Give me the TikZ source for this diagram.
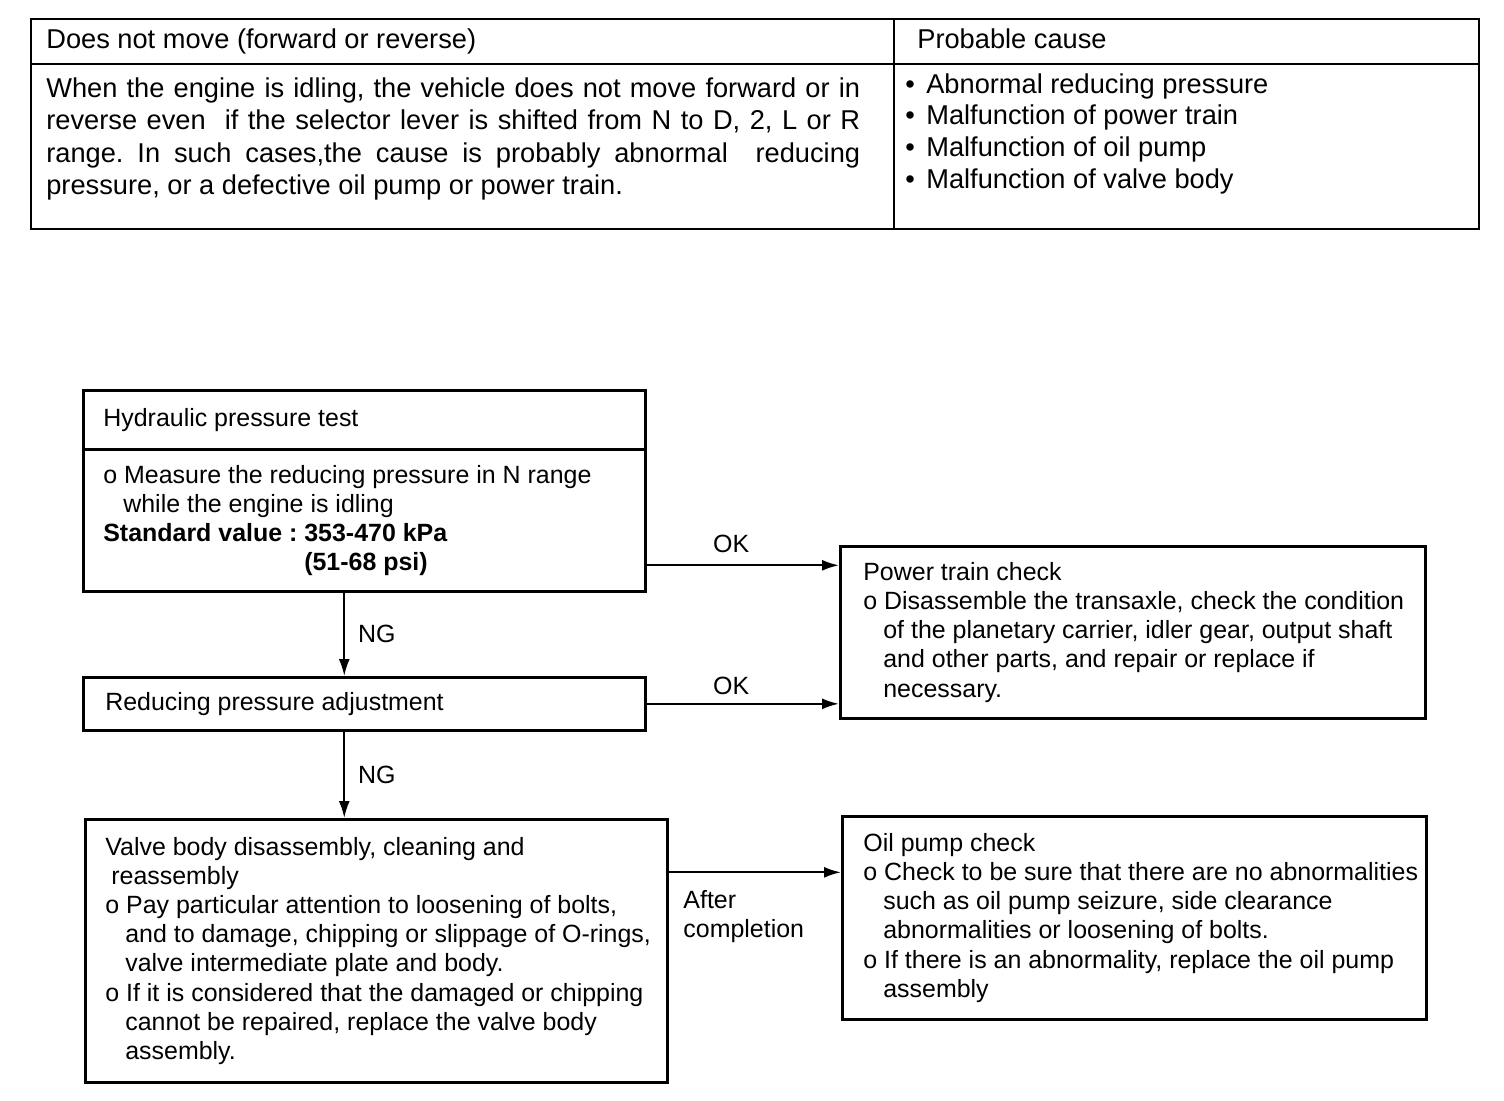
\documentclass[tikz,border=0pt]{standalone}
\usepackage{fontspec}
\setmainfont{Liberation Sans}
\usetikzlibrary{arrows.meta,positioning}
\newcommand{\hangin}{\hspace*{0.4cm}}
\frenchspacing

\begin{document}
\begin{tikzpicture}[x=0.02cm,y=-0.02cm,
    tabcell/.style={draw,line width=1.4pt,anchor=north west,inner sep=0pt},
    flowbox/.style={draw,line width=1.5pt,anchor=north west,inner sep=0pt},
    tabtext/.style={inner sep=0pt,font=\fontsize{15.5}{18.5}\selectfont},
    boxtext/.style={inner sep=0pt,anchor=west,align=left,font=\fontsize{14.2}{16.6}\selectfont},
    lbl/.style={font=\fontsize{14.2}{16.6}\selectfont},
    flowarrow/.style={line width=1.2pt,-{Latex[length=0.34cm,width=0.22cm]}}]
\useasboundingbox (0,0) rectangle (1504,1100);

% symptom table
\node[tabcell,minimum width=17.26cm,minimum height=0.9cm] (symptom) at (30,18) {};
\node[tabcell,minimum width=11.7cm,minimum height=0.9cm] (causehead) at (893,18) {};
\node[tabcell,minimum width=17.26cm,minimum height=3.3cm] (desc) at (30,63) {};
\node[tabcell,minimum width=11.7cm,minimum height=3.3cm] (causes) at (893,63) {};

\node[tabtext,anchor=west] (symptomtext) at ([xshift=0.32cm]symptom.west)
    {Does not move (forward or reverse)};
\node[tabtext,anchor=west] (causeheadtext) at ([xshift=0.48cm,yshift=0.05cm]causehead.west)
    {Probable cause};
\node[tabtext,anchor=north west,text width=16.28cm,align=justify] (desctext)
    at ([xshift=0.32cm,yshift=-0.28cm]desc.north west)
    {When the engine is idling, the vehicle does not move forward or in\linebreak
     reverse even\ \ if the selector lever is shifted from N to D, 2, L or R\linebreak
     range. In such cases,the cause is probably abnormal\ \ reducing\linebreak
     pressure, or a defective oil pump or power train.};
\node[tabtext,anchor=north west,align=left,font=\fontsize{15.5}{18.1}\selectfont] (causelist)
    at ([xshift=0.24cm,yshift=-0.2cm]causes.north west)
    {\makebox[0.42cm][l]{•}Abnormal reducing pressure\\
     \makebox[0.42cm][l]{•}Malfunction of power train\\
     \makebox[0.42cm][l]{•}Malfunction of oil pump\\
     \makebox[0.42cm][l]{•}Malfunction of valve body};

% flow chart boxes
\node[flowbox,minimum width=11.24cm,minimum height=1.18cm] (hydhead) at (82,389) {};
\node[flowbox,minimum width=11.24cm,minimum height=2.84cm] (hydbody) at (82,448) {};
\node[flowbox,minimum width=11.24cm,minimum height=1.06cm] (reduce) at (82,676) {};
\node[flowbox,minimum width=11.64cm,minimum height=5.26cm] (valve) at (84,818) {};
\node[flowbox,minimum width=11.7cm,minimum height=3.44cm] (power) at (839,545) {};
\node[flowbox,minimum width=11.68cm,minimum height=4.06cm] (oil) at (841,815) {};

\node[boxtext] (hydheadtext) at ([xshift=0.42cm]hydhead.west) {Hydraulic pressure test};
\node[boxtext] (hydbodytext) at ([xshift=0.42cm]hydbody.west)
    {o Measure the reducing pressure in N range\\
     \hangin while the engine is idling\\
     \textbf{Standard value : 353-470 kPa}\\
     \hspace*{4.02cm}\textbf{(51-68 psi)}};
\node[boxtext] (reducetext) at ([xshift=0.46cm]reduce.west) {Reducing pressure adjustment};
\node[boxtext] (valvetext) at ([xshift=0.42cm]valve.west)
    {Valve body disassembly, cleaning and\\
     \hspace*{0.12cm}reassembly\\
     o Pay particular attention to loosening of bolts,\\
     \hangin and to damage, chipping or slippage of O-rings,\\
     \hangin valve intermediate plate and body.\\
     o If it is considered that the damaged or chipping\\
     \hangin cannot be repaired, replace the valve body\\
     \hangin assembly.};
\node[boxtext] (powertext) at ([xshift=0.48cm]power.west)
    {Power train check\\
     o Disassemble the transaxle, check the condition\\
     \hangin of the planetary carrier, idler gear, output shaft\\
     \hangin and other parts, and repair or replace if\\
     \hangin necessary.};
\node[boxtext] (oiltext) at ([xshift=0.44cm]oil.west)
    {Oil pump check\\
     o Check to be sure that there are no abnormalities\\
     \hangin such as oil pump seizure, side clearance\\
     \hangin abnormalities or loosening of bolts.\\
     o If there is an abnormality, replace the oil pump\\
     \hangin assembly};

% connectors
\coordinate (okfrom) at ([yshift=-0.9cm]hydbody.east);
\draw[flowarrow] (okfrom) -- (okfrom -| power.west)
    node[lbl,above=3pt,pos=0.44] (ok1) {OK};
\draw[flowarrow] (reduce.east) -- (reduce.east -| power.west)
    node[lbl,above=1pt,pos=0.44] (ok2) {OK};
\coordinate (ngfrom) at ([xshift=-0.4cm]hydbody.south);
\draw[flowarrow] (ngfrom) -- (ngfrom |- reduce.north)
    node[lbl,right=4pt,midway] (ng1) {NG};
\coordinate (ngnext) at ([xshift=-0.4cm]reduce.south);
\draw[flowarrow] (ngnext) -- (ngnext |- valve.north)
    node[lbl,right=4pt,midway] (ng2) {NG};
\coordinate (donefrom) at ([yshift=1.57cm]valve.east);
\draw[flowarrow] (donefrom) -- (donefrom -| oil.west)
    node[lbl,pos=0,anchor=north west,xshift=0.16cm,yshift=-0.22cm,align=left] (done)
    {After\\completion};
\end{tikzpicture}
\end{document}
